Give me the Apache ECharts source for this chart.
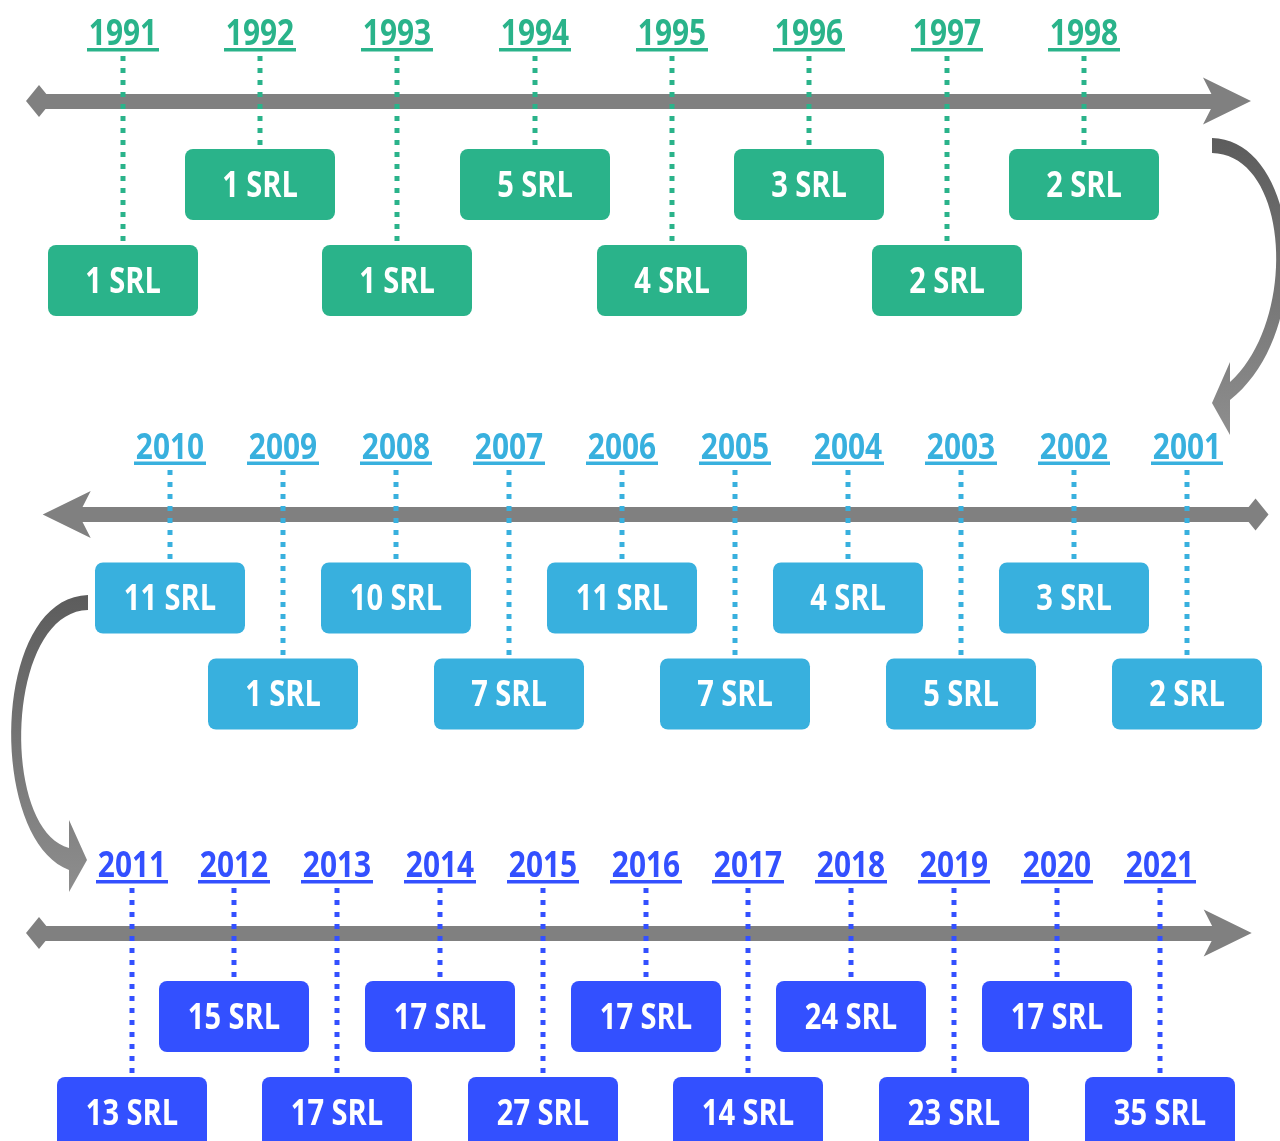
<!DOCTYPE html>
<html>
<head>
<meta charset="utf-8">
<script src="https://cdn.jsdelivr.net/npm/echarts@6/dist/echarts.min.js"></script>
<style>
html, body { margin: 0; padding: 0; background: #fff; }
#chart { width: 1280px; height: 1141px; }
</style>
</head>
<body>
<div id="chart"></div>
<script>
// 每行时间轴：年份 + 当年 SRL 数量
const years1 = [1991, 1992, 1993, 1994, 1995, 1996, 1997, 1998];
const srl1 = [1, 1, 1, 5, 4, 3, 2, 2];

const years2 = [2001, 2002, 2003, 2004, 2005, 2006, 2007, 2008, 2009, 2010];
const srl2 = [2, 3, 5, 4, 7, 11, 7, 10, 1, 11];

const years3 = [2011, 2012, 2013, 2014, 2015, 2016, 2017, 2018, 2019, 2020, 2021];
const srl3 = [13, 15, 17, 17, 27, 17, 14, 24, 23, 17, 35];

const unit = 'SRL';

const FONT = "'Open Sans', Roboto, sans-serif";
const GREEN = '#2ab38a';
const SKY = '#38b0de';
const BLUE = '#3350ff';
const GRAY = '#808080';
// arrow: tip sits on the offset point; diamond drawn inside the same symbol box
const ARROW_SIZE = [35.25, 48];
const DIAMOND = 'path://M0,0M35.25,48M17.6,11L33.6,24L17.6,37L1.6,24Z';

var myChart = echarts.init(document.getElementById('chart'));

function stop(color) {
	return function (params, api) {
		let year = api.value(0);
		let n = api.value(1);
		let p = api.coord([year, 0]);
		let cx = Math.round(p[0]), axisY = p[1];
		let lower = params.dataIndex % 2 === 0;
		let boxTop = axisY + (lower ? 144 : 48);
		// 虚线：5px 方点，间距 12px
		let dots = [];
		for (let y = axisY - 45; y + 5 <= boxTop - 2; y += 12) {
			dots.push({
				type: 'rect',
				shape: { x: cx - 2.5, y: Math.round(y), width: 5, height: 5 },
				style: { fill: color }
			});
		}
		return {
			type: 'group',
			children: dots.concat([
				{
					type: 'rect',
					shape: { x: cx - 75, y: boxTop, width: 150, height: 71, r: 8 },
					style: { fill: color }
				},
				{
					type: 'text',
					x: cx, y: boxTop + 38, scaleX: 0.83,
					style: {
						text: n + ' ' + unit, fill: '#fff',
						font: 'bold 35px ' + FONT, align: 'center', verticalAlign: 'middle'
					}
				},
				{
					type: 'text',
					x: cx, y: axisY - 66, scaleX: 0.83,
					style: {
						text: String(year), fill: color,
						font: 'bold 36px ' + FONT, align: 'center', verticalAlign: 'middle'
					}
				},
				{
					type: 'rect',
					shape: { x: cx - 36, y: axisY - 53, width: 72, height: 3.5 },
					style: { fill: color }
				}
			])
		};
	};
}

function spine(gridIndex, min, max, inverse, symbols, offsets) {
	return {
		type: 'value', gridIndex: gridIndex, min: min, max: max, inverse: inverse,
		position: 'top',
		axisLine: {
			show: true, onZero: false,
			symbol: symbols, symbolSize: ARROW_SIZE, symbolOffset: offsets,
			lineStyle: { color: GRAY, width: 15, cap: 'butt' }
		},
		axisTick: { show: false },
		axisLabel: { show: false },
		splitLine: { show: false }
	};
}

function hiddenY(gridIndex) {
	return { type: 'value', gridIndex: gridIndex, min: 0, max: 1, inverse: true, show: false };
}

function row(idx, years, srl, color) {
	return {
		type: 'custom',
		coordinateSystem: 'cartesian2d',
		xAxisIndex: idx, yAxisIndex: idx,
		renderItem: stop(color),
		data: years.map((y, i) => [y, srl[i]])
	};
}

// 行与行之间的弯箭头
function bez(p0, p1, p2, p3, n) {
	let pts = [];
	for (let k = 0; k <= n; k++) {
		let t = k / n, u = 1 - t;
		pts.push([
			u * u * u * p0[0] + 3 * u * u * t * p1[0] + 3 * u * t * t * p2[0] + t * t * t * p3[0],
			u * u * u * p0[1] + 3 * u * u * t * p1[1] + 3 * u * t * t * p2[1] + t * t * t * p3[1]
		]);
	}
	return pts;
}
let rightBend = bez([1212, 138], [1300, 140], [1318, 330], [1230, 400], 40)
	.concat([[1230, 435], [1212, 403], [1230, 362]])
	.concat(bez([1230, 382], [1298, 320], [1290, 155], [1212, 153], 40));
let leftBend = bez([88, 595], [-10, 598], [-12, 840], [69, 870], 40)
	.concat([[69, 892], [87, 860], [69, 820]])
	.concat(bez([69, 848], [0, 830], [5, 612], [88, 610], 40));
function bendFill() {
	return new echarts.graphic.LinearGradient(0, 0, 0, 1, [
		{ offset: 0, color: '#5c5c5c' },
		{ offset: 1, color: '#8e8e8e' }
	]);
}

let option = {
	animation: false,
	backgroundColor: '#fff',
	grid: [
		{ left: 39, right: 53, top: 101, height: 220 },
		{ left: 66.7, right: 24.5, top: 514.5, height: 220 },
		{ left: 39, right: 52.3, top: 933, height: 200 }
	],
	xAxis: [
		spine(0, 1990.39, 1999.04, false, [DIAMOND, 'arrow'], [0, 24]),
		spine(1, 2000.392, 2010.912, true, ['arrow', DIAMOND], [-24, 0]),
		spine(2, 2010.10, 2021.663, false, [DIAMOND, 'arrow'], [0, 24])
	],
	yAxis: [hiddenY(0), hiddenY(1), hiddenY(2)],
	graphic: [
		{ type: 'polygon', shape: { points: rightBend }, style: { fill: bendFill() } },
		{ type: 'polygon', shape: { points: leftBend }, style: { fill: bendFill() } }
	],
	series: [
		row(0, years1, srl1, GREEN),
		row(1, years2, srl2, SKY),
		row(2, years3, srl3, BLUE)
	]
};

myChart.setOption(option);
window.onresize = function () {
	myChart.resize();
};
</script>
</body>
</html>
